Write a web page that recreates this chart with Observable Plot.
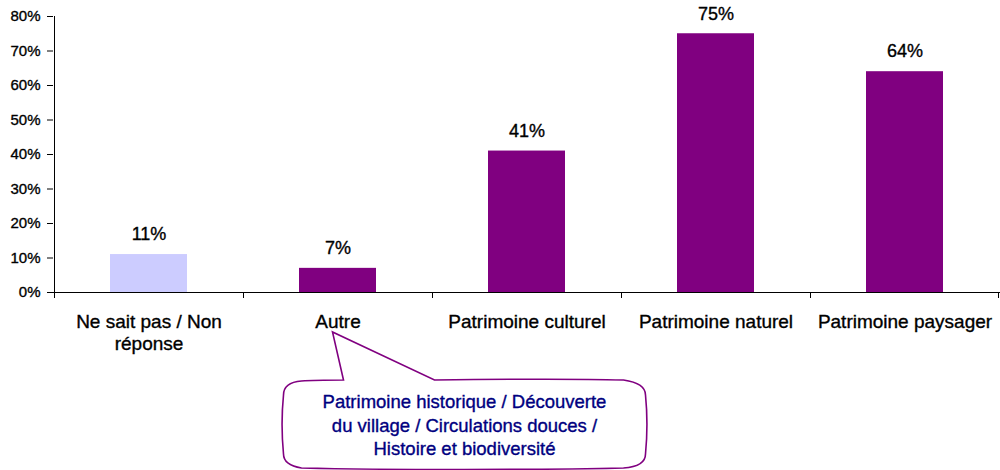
<!DOCTYPE html>
<html>
<head>
<meta charset="utf-8">
<script src="https://cdn.jsdelivr.net/npm/d3@7"></script>
<script src="https://cdn.jsdelivr.net/npm/@observablehq/plot@0.6"></script>
<style>
  html, body { margin: 0; padding: 0; background: #fff; }
  #chart svg { display: block; }
  #chart svg text { stroke: #000; stroke-width: 0.35px; }
  #chart svg .callout-text text { stroke: #000080; }
</style>
</head>
<body>
<div id="chart"></div>
<script>
const categories = ["Ne sait pas / Non réponse", "Autre", "Patrimoine culturel", "Patrimoine naturel", "Patrimoine paysager"];
const tickLabels = ["Ne sait pas / Non\nréponse", "Autre", "Patrimoine culturel", "Patrimoine naturel", "Patrimoine paysager"];
const values = [0.11, 0.07, 0.41, 0.75, 0.64];
const barColors = ["#CCCCFF", "#800080", "#800080", "#800080", "#800080"];
const yTicks = [0, 0.1, 0.2, 0.3, 0.4, 0.5, 0.6, 0.7, 0.8];
const calloutLines = ["Patrimoine historique / Découverte", "du village / Circulations douces /", "Histoire et biodiversité"];
const calloutTarget = "Autre";

const data = categories.map((c, i) => ({cat: c, value: values[i], color: barColors[i], label: tickLabels[i]}));
const pct = d3.format(".0%");

const chart = Plot.plot({
  width: 1000,
  height: 470,
  marginLeft: 53,
  marginRight: 0,
  marginTop: 16,
  marginBottom: 178,
  style: {fontFamily: "'Liberation Sans', Arial, sans-serif", color: "#000", background: "#fff"},
  x: {domain: categories, padding: 0},
  y: {domain: [0, 0.8]},
  marks: [
    Plot.barY(data, {x: "cat", y: "value", fill: "color", insetLeft: 56, insetRight: 56}),
    Plot.text(data, {x: "cat", y: "value", text: d => pct(d.value), dy: -20, fontSize: 18, fill: "#000"}),
    Plot.ruleY([0], {stroke: "#000", strokeWidth: 1}),
    Plot.axisY({ticks: yTicks, tickFormat: pct, tickSize: 6, tickPadding: 7, fontSize: 15, label: null, stroke: "#000"}),
    Plot.axisX({tickSize: 0, tickPadding: 19, fontSize: 19, label: null, tickFormat: (d) => tickLabels[categories.indexOf(d)], lineHeight: 1.2})
  ]
});

document.getElementById("chart").appendChild(chart);

// Extra axis lines, band-boundary ticks and the callout, placed through the chart's scales
const sx = chart.scale("x");
const sy = chart.scale("y");
const bw = sx.bandwidth;
const svg = d3.select(chart);
const y0 = sy.apply(0);
const yTop = sy.apply(0.8);
const xLeft = sx.apply(categories[0]);
const xRight = sx.apply(categories[categories.length - 1]) + bw;

const g = svg.append("g").attr("stroke", "#000").attr("stroke-width", 1);
g.append("line").attr("x1", xLeft + 0.5).attr("x2", xLeft + 0.5).attr("y1", yTop).attr("y2", y0);
categories.forEach(c => {
  const xx = Math.round(sx.apply(c)) + 0.5;
  g.append("line").attr("x1", xx).attr("x2", xx).attr("y1", y0).attr("y2", y0 + 6);
});
g.append("line").attr("x1", xRight - 0.5).attr("x2", xRight - 0.5).attr("y1", y0).attr("y2", y0 + 6);

// callout
const tipX = sx.apply(calloutTarget) + bw / 2 - 5;
const tipY = y0 + 40;
const L = tipX - 49, R = tipX + 313, T = tipY + 48, B = tipY + 136;
const p = d3.path();
p.moveTo(L + 18, T + 1);
p.bezierCurveTo(L + 30, T, tipX - 5, T, tipX + 11, T);
p.lineTo(tipX, tipY);
p.lineTo(tipX + 102, T);
p.bezierCurveTo(tipX + 180, T - 1, R - 60, T - 1, R - 22, T);
p.bezierCurveTo(R - 8, T + 2, R, T + 6, R, T + 15);
p.bezierCurveTo(R + 2, T + 35, R + 2, B - 35, R, B - 14);
p.bezierCurveTo(R, B - 5, R - 8, B - 1, R - 22, B);
p.bezierCurveTo(R - 100, B + 2, L + 100, B + 2, L + 18, B);
p.bezierCurveTo(L + 6, B - 2, L, B - 6, L, B - 14);
p.bezierCurveTo(L - 2, B - 35, L - 2, T + 35, L, T + 15);
p.bezierCurveTo(L, T + 6, L + 6, T + 2, L + 18, T + 1);
p.closePath();
svg.append("path").attr("d", p.toString()).attr("fill", "#fff").attr("stroke", "#800080").attr("stroke-width", 1.6);

const cx = (L + R) / 2;
svg.append("g")
  .attr("class", "callout-text")
  .attr("font-family", "'Liberation Sans', Arial, sans-serif")
  .attr("font-size", 18.5)
  .attr("fill", "#000080")
  .attr("text-anchor", "middle")
  .selectAll("text")
  .data(calloutLines)
  .join("text")
  .attr("x", cx)
  .attr("y", (d, i) => T + 22 + i * 23.5)
  .attr("dy", "0.35em")
  .text(d => d);
</script>
</body>
</html>
